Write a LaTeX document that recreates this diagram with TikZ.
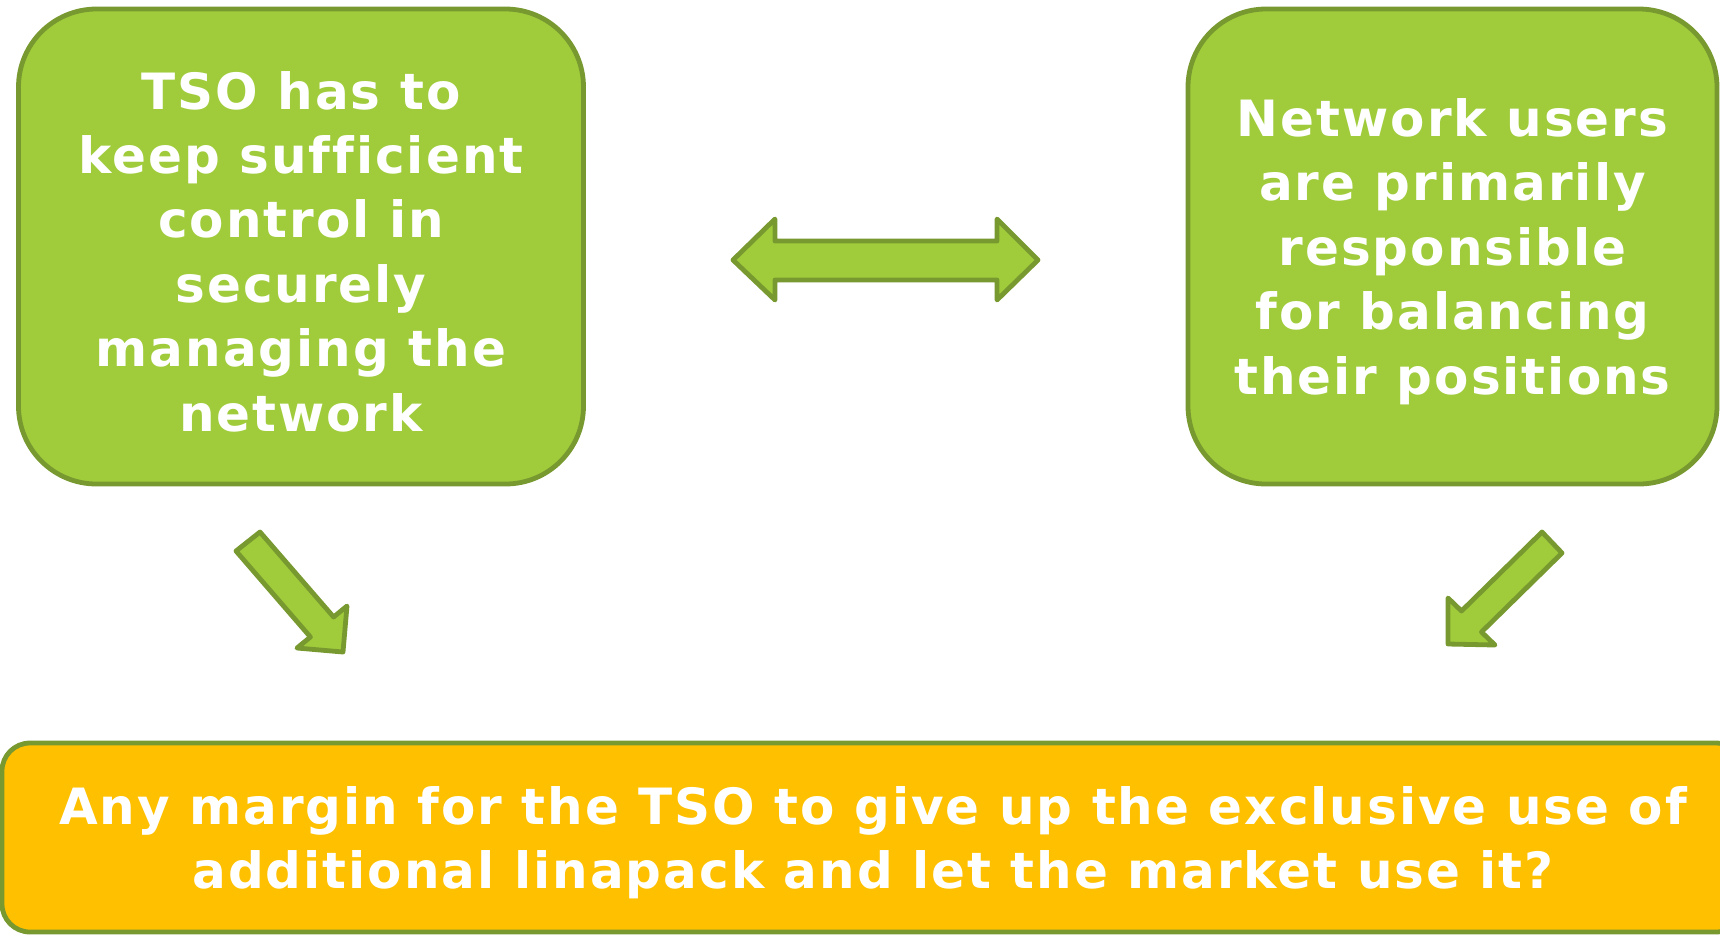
\documentclass[tikz,border=0pt]{standalone}
\usepackage{fontspec}
\setmainfont{DejaVu Sans}[LetterSpace=4, Ligatures=NoCommon]
\usetikzlibrary{positioning}
\definecolor{boxgreen}{HTML}{A0CC3C}
\definecolor{edgegreen}{HTML}{77992F}
\definecolor{boxorange}{HTML}{FFC000}
\newcommand{\firstline}{\rule{0pt}{24pt}}

\begin{document}
\begin{tikzpicture}[x=0.5pt, y=-0.5pt,
    card/.style={draw=edgegreen, line width=2.4pt, fill=#1, rounded corners=39pt, align=center, text=white, inner sep=0pt, font=\fontsize{25}{32.2}\selectfont\bfseries},
    blockarrow/.style={draw=edgegreen, line width=2.4pt, fill=boxgreen, line join=round},
]
\useasboundingbox (0,0) rectangle (1720,934);
\node[card=boxgreen, minimum width=282.5pt, minimum height=237.5pt] (tso) at (301,246.5) {\firstline TSO has to\\keep sufficient\\control in\\securely\\managing the\\network};
\node[card=boxgreen, minimum width=264.5pt, minimum height=237.5pt] (users) at (1452.5,246.5) {\firstline Network users\\are primarily\\responsible\\for balancing\\their positions};
\node[card=boxorange, rounded corners=14pt, minimum width=871pt, minimum height=94.5pt] (margin) at (873,837.5) {\firstline Any margin for the TSO to give up the exclusive use of\\additional linapack and let the market use it?};
% arrows
\draw[blockarrow] (733,260) -- (775,219) -- (775,241) -- (997,241) -- (997,219) -- (1038,260) -- (997,300) -- (997,280) -- (775,280) -- (775,300) -- cycle;
\draw[blockarrow] (236,551) -- (260,532) -- (333.6,617) -- (347,606) -- (343,652) -- (297,648) -- (310.4,637) -- cycle;
\draw[blockarrow] (1542,532) -- (1562,553) -- (1481.5,632) -- (1495,645) -- (1448,644) -- (1448,598) -- (1461.5,611) -- cycle;
\end{tikzpicture}
\end{document}
